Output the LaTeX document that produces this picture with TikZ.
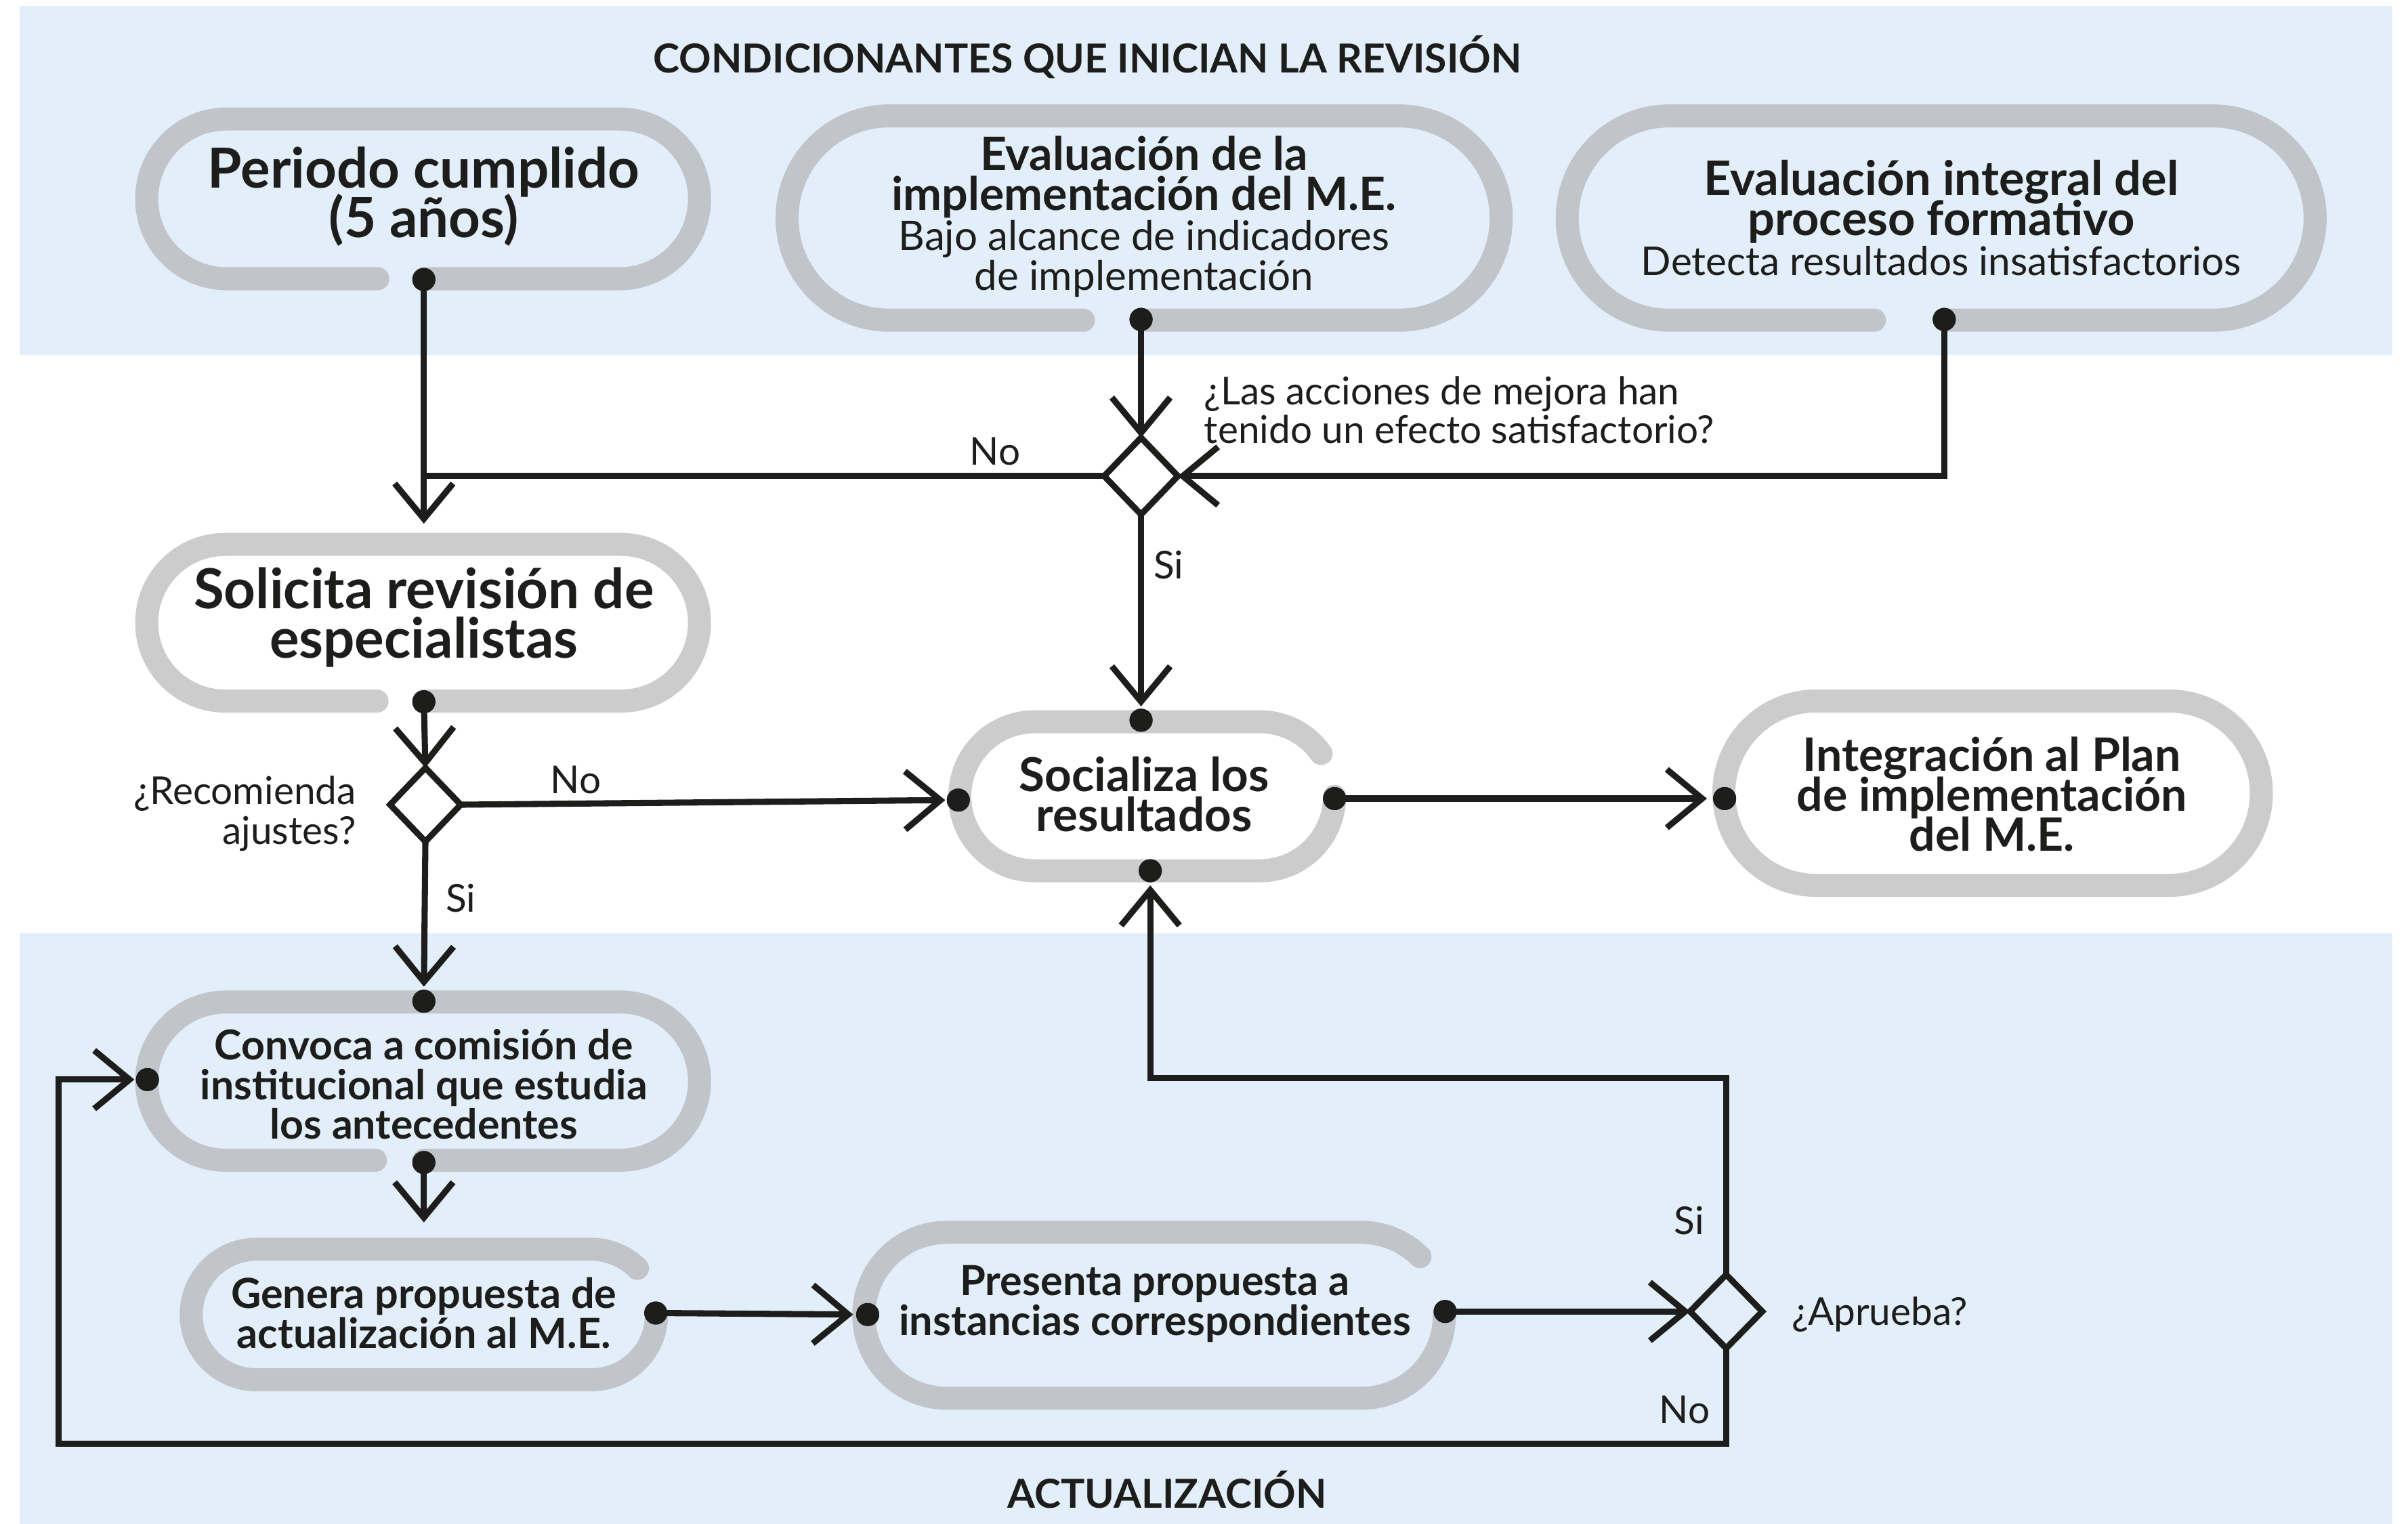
\documentclass[tikz,border=0pt]{standalone}
\usepackage{fontspec}
\setmainfont{Lato}
\usetikzlibrary{arrows.meta,shapes.geometric}
\definecolor{bandc}{HTML}{E2EEFA}
\definecolor{ringgA}{HTML}{C1C4C9}
\definecolor{ringgB}{HTML}{CCCCCC}
\definecolor{ink}{HTML}{1D1D1B}
\newcommand{\myfs}[2]{\fontsize{#1}{#2}\selectfont\lineskiplimit=-100pt\relax}
\begin{document}
\begin{tikzpicture}[x=1pt,y=-1pt,
  ringblue/.style={draw=ringgA,line width=15pt,line cap=round},
  ringwhite/.style={draw=ringgB,line width=15pt,line cap=round},
  dot/.style={circle,fill=ink,minimum size=15pt,inner sep=0pt,outer sep=0pt},
  dec/.style={diamond,draw=ink,line width=4pt,inner sep=0pt,outer sep=0pt},
  conn/.style={draw=ink,line width=4pt},
  arr/.style={conn,-{Straight Barb[length=23pt,width=38pt]}},
  txt/.style={text=ink,align=center,inner sep=0pt},
  lbl/.style={text=ink,inner sep=0pt,font=\myfs{25}{25}}
]
\useasboundingbox (0,0) rectangle (1568,992.4);
% bands
\fill[bandc] (13,4) rectangle (1558,231);
\fill[bandc] (13,608) rectangle (1558,992.4);

% rings
\draw[ringblue] (276,181.5) -- (403.5,181.5) arc[start angle=90,end angle=-90,radius=52] -- (147.5,77.5) arc[start angle=270,end angle=90,radius=52] -- (246,181.5);
\draw[ringblue] (743,208.5) -- (911,208.5) arc[start angle=90,end angle=-90,radius=66.5] -- (579,75.5) arc[start angle=270,end angle=90,radius=66.5] -- (705.5,208.5);
\draw[ringblue] (1266,208.5) -- (1441,208.5) arc[start angle=90,end angle=-90,radius=66.5] -- (1087,75.5) arc[start angle=270,end angle=90,radius=66.5] -- (1220.5,208.5);
\draw[ringwhite] (276,456.5) -- (404.5,456.5) arc[start angle=90,end angle=-90,radius=51] -- (146.5,354.5) arc[start angle=270,end angle=90,radius=51] -- (245.5,456.5);
\draw[ringwhite] (869,518.5) arc[start angle=0,end angle=90,radius=48.5] -- (673.5,567) arc[start angle=90,end angle=270,radius=48.5] -- (820.5,470) arc[start angle=270,end angle=325,radius=48.5];
\draw[ringwhite,rounded corners=59.9pt] (1122.5,456.5) rectangle (1472.5,576.5);
\draw[ringblue] (276,755.5) -- (404,755.5) arc[start angle=90,end angle=-90,radius=51.5] -- (147,652.5) arc[start angle=270,end angle=90,radius=51.5] -- (244.5,755.5);
\draw[ringblue] (427.5,856) arc[start angle=0,end angle=90,radius=42.5] -- (167,898.5) arc[start angle=90,end angle=270,radius=42.5] -- (385,813.5) arc[start angle=270,end angle=315,radius=42.5];
\draw[ringblue] (940.5,856.5) arc[start angle=0,end angle=90,radius=54] -- (616.5,910.5) arc[start angle=90,end angle=270,radius=54] -- (886.5,802.5) arc[start angle=270,end angle=315,radius=54];

% decisions
\node[dec,minimum width=48pt,minimum height=50pt] (d1) at (743,310) {};
\node[dec,minimum width=46pt,minimum height=48pt] (d2) at (277,524) {};
\node[dec,minimum width=47pt,minimum height=48pt] (d3) at (1124,854) {};

% dots
\node[dot] (pP) at (276,182) {};
\node[dot] (pE1) at (743,208) {};
\node[dot] (pE2) at (1266,208) {};
\node[dot] (pSol) at (276,457) {};
\node[dot] (pStop) at (743,469) {};
\node[dot] (pSleft) at (624,521) {};
\node[dot] (pSright) at (869,520) {};
\node[dot] (pSbot) at (749,567) {};
\node[dot] (pI) at (1123,520) {};
\node[dot] (pCtop) at (276,652) {};
\node[dot] (pCleft) at (96,703) {};
\node[dot] (pCbot) at (276,757) {};
\node[dot] (pG) at (427,855) {};
\node[dot] (pPrL) at (565,856) {};
\node[dot] (pPrR) at (941,854) {};

% helper coordinates
\coordinate (solIn) at (276,341);
\coordinate (j1) at (276,310);
\coordinate (genIn) at (276,796);
\coordinate (k1) at (1124,702);
\coordinate (k2) at (1124,940);
\coordinate (k3) at (38,703);

% connectors
\draw[arr] (pP.center) -- (solIn);
\draw[conn] (d1.west) -- (j1);
\draw[arr] (pE1.center) -- (d1.north);
\draw[arr] (pE2.center) |- (d1.east);
\draw[arr,shorten >=1.5pt] (d1.south) -- (pStop.north);
\draw[arr] (pSol.center) -- (d2.north);
\draw[arr,shorten >=1pt] (d2.east) -- (pSleft.west);
\draw[arr,shorten >=2pt] (d2.south) -- (pCtop.north);
\draw[arr] (pCbot.center) -- (genIn);
\draw[arr,shorten >=2pt] (pG.center) -- (pPrL.west);
\draw[arr] (pPrR.center) -- (d3.west);
\draw[arr,shorten >=2pt] (d3.north) -- (k1) -| (pSbot.south);
\draw[arr,shorten >=1pt] (d3.south) -- (k2) -| (k3) -- (pCleft.west);
\draw[arr,shorten >=4pt] (pSright.center) -- (pI.west);

% redraw dots on top of lines
\foreach \n in {pP,pE1,pE2,pSol,pStop,pSleft,pSright,pSbot,pI,pCtop,pCleft,pCbot,pG,pPrL,pPrR}
  \fill[ink] (\n) circle[radius=7.5pt];

% texts
\node[txt,font=\myfs{26}{26}\bfseries] (title) at (708,37) {CONDICIONANTES QUE INICIAN LA REVISIÓN};
\node[txt,font=\myfs{36}{32}\bfseries] (periodo) at (276,128) {Periodo cumplido\\(5 años)};
\node[txt,font=\myfs{26.5}{26}] (eval1) at (745,141) {{\myfs{30}{26}\bfseries Evaluación de la}\\{\myfs{30}{26}\bfseries implementación del M.E.}\\Bajo alcance de indicadores\\de implementación};
\node[txt,font=\myfs{25.8}{26}] (eval2) at (1264,142) {{\myfs{31}{26}\bfseries Evaluación integral del}\\{\myfs{31}{26}\bfseries proceso formativo}\\Detecta resultados insatisfactorios};
\node[txt,font=\myfs{36}{32}\bfseries] (solicita) at (276,402) {Solicita revisión de\\especialistas};
\node[txt,font=\myfs{30.5}{26}\bfseries] (socializa) at (745,517) {Socializa los\\resultados};
\node[txt,font=\myfs{30}{26}\bfseries] (integra) at (1297,517) {Integración al Plan\\de implementación\\del M.E.};
\node[txt,font=\myfs{26.8}{26}\bfseries] (convoca) at (276,706) {Convoca a comisión de\\institucional que estudia\\los antecedentes};
\node[txt,font=\myfs{27}{26}\bfseries] (genera) at (276,855) {Genera propuesta de\\actualización al M.E.};
\node[txt,font=\myfs{27}{26}\bfseries] (presenta) at (752,849) {Presenta propuesta a\\instancias correspondientes};
\node[txt,font=\myfs{26}{26}\bfseries] (actual) at (760,970) {ACTUALIZACIÓN};

\node[lbl,anchor=west,align=left] (q1) at (784,267) {¿Las acciones de mejora han\\tenido un efecto satisfactorio?};
\node[lbl,anchor=east,align=right,font=\myfs{25}{26}] (q2) at (232,530) {¿Recomienda\\ajustes?};
\node[lbl] (q3) at (1224,856) {¿Aprueba?};
\node[lbl] (no1) at (648,294) {No};
\node[lbl] (si1) at (761,368) {Si};
\node[lbl] (no2) at (375,508) {No};
\node[lbl] (si2) at (300,585) {Si};
\node[lbl] (si3) at (1100,795) {Si};
\node[lbl] (no3) at (1097,918) {No};
\end{tikzpicture}
\end{document}
